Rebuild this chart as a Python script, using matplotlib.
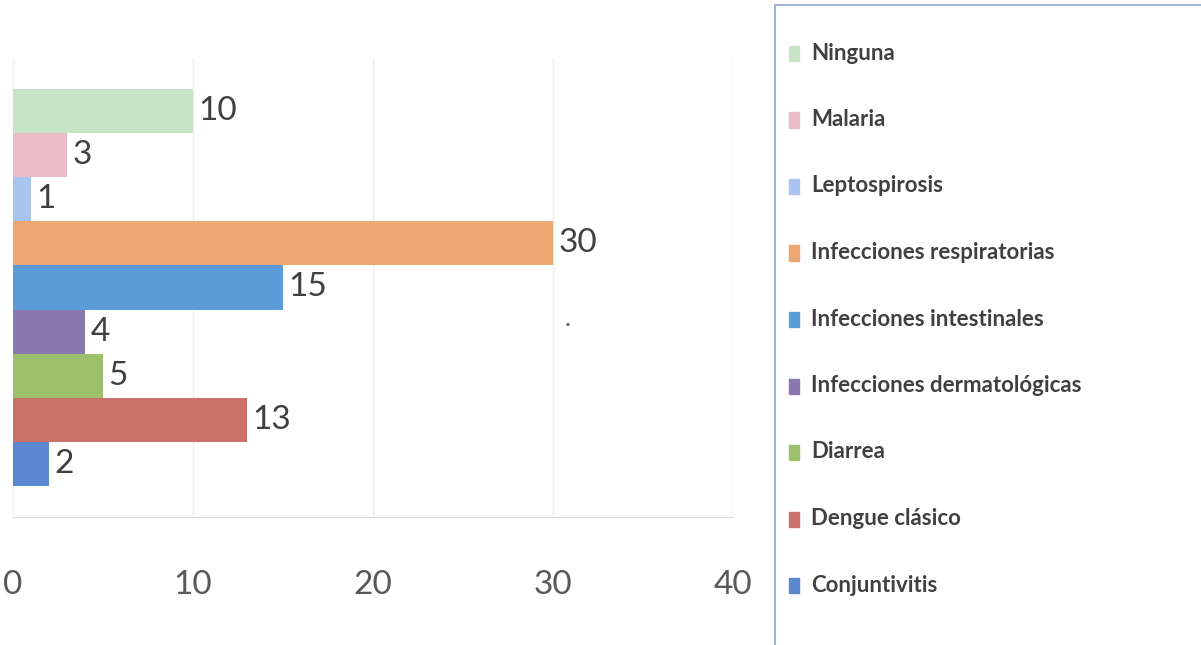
import matplotlib.pyplot as plt
from matplotlib.patches import Rectangle

# categories top to bottom, as in the reference
categories = ["Ninguna", "Malaria", "Leptospirosis", "Infecciones respiratorias",
              "Infecciones intestinales", "Infecciones dermatológicas", "Diarrea",
              "Dengue clásico", "Conjuntivitis"]
values = [10, 3, 1, 30, 15, 4, 5, 13, 2]
colors = ["#c8e4c6", "#e9bcc6", "#a9c5ef", "#eda872", "#5b9bd8",
          "#8a78ae", "#9cc06c", "#cb716a", "#5b86d0"]
xticks = [0, 10, 20, 30, 40]

plt.rcParams["font.family"] = ["Lato", "DejaVu Sans"]
TEXT = "#404040"

fig = plt.figure(figsize=(12.01, 6.45), dpi=100)
ax = fig.add_axes([13 / 1201, 1 - 517 / 645, 720 / 1201, 459 / 645])

ypos = list(range(len(categories)))
ax.barh(ypos, values, height=1.0, color=colors)
for y, v in zip(ypos, values):
    ax.annotate(str(v), (v, y), xytext=(4, 0), textcoords="offset points",
                va="center", ha="left", fontsize=24, color=TEXT)

ax.set_xlim(0, 40)
ax.set_ylim(9.2, -1.2)
ax.set_xticks(xticks)
ax.set_yticks([])
ax.grid(axis="x", color="#eeeeee", linewidth=1)
ax.set_axisbelow(True)
for s in ["top", "right", "left"]:
    ax.spines[s].set_visible(False)
ax.spines["bottom"].set_color("#dcdcdc")
ax.tick_params(axis="x", length=0, pad=38, labelsize=24, labelcolor="#595959")

# stray dot from the scan
ax.text(30.8, 4.7, ".", fontsize=18, color="#555555", ha="center", va="center")

# legend box on the right
fig.patches.append(Rectangle((775 / 1201, -0.05), 0.5, 1 - 5 / 645 + 0.05,
                             transform=fig.transFigure, fill=False,
                             edgecolor="#8fa3c8", linewidth=1.2))
for i, (name, c) in enumerate(zip(categories, colors)):
    yc = 1 - (53 + i * 66.5) / 645
    fig.patches.append(Rectangle((789 / 1201, yc - 8 / 645), 10 / 1201, 15 / 645,
                                 transform=fig.transFigure, color=c))
    fig.text(811 / 1201, yc, name, fontsize=16, fontweight="bold",
             color=TEXT, va="center", ha="left")

fig.savefig("out.png", dpi=100)
